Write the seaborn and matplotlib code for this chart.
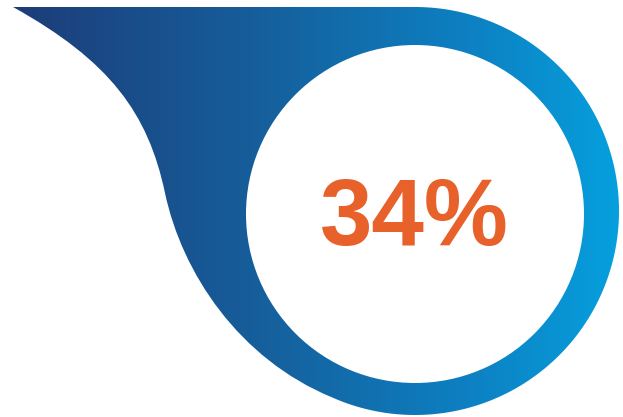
import numpy as np
import seaborn as sns
import matplotlib
matplotlib.use("Agg")
import matplotlib.pyplot as plt
from matplotlib.path import Path
from matplotlib.patches import PathPatch, Circle
from matplotlib.colors import LinearSegmentedColormap

sns.set_theme(style="white")
plt.rcParams['font.family'] = ['Liberation Sans', 'DejaVu Sans']

# data
values = [34]
labels = ["34%"]

W, H = 623, 417
fig = plt.figure(figsize=(W / 100, H / 100), dpi=100)
ax = fig.add_axes([0, 0, 1, 1])
ax.set_xlim(0, W)
ax.set_ylim(H, 0)
ax.axis("off")
fig.patch.set_facecolor("white")

cx, cy, R = 415, 211, 204
r_in = 169
cy_in = 214

# teardrop outline
verts = [(13, 7), (cx, 7)]
codes = [Path.MOVETO, Path.LINETO]
th = np.radians(np.linspace(-90, 114, 200))
for t in th:
    verts.append((cx + R * np.cos(t), cy + R * np.sin(t)))
    codes.append(Path.LINETO)
verts += [(239, 359), (182, 273), (165, 193)]
codes += [Path.CURVE4] * 3
verts += [(148, 113), (110, 61), (13, 7)]
codes += [Path.CURVE4] * 3
verts.append((13, 7))
codes.append(Path.CLOSEPOLY)
path = Path(verts, codes)
patch = PathPatch(path, facecolor="none", edgecolor="none")
ax.add_patch(patch)

cmap = LinearSegmentedColormap.from_list(
    "g", [(0.0, "#1d3b77"), (0.45, "#15629f"), (0.75, "#0d80c2"), (1.0, "#06a0de")])
grad = np.linspace(0, 1, 600).reshape(1, -1)
im = ax.imshow(grad, cmap=cmap, aspect="auto", extent=[0, W, H, 0], zorder=1)
im.set_clip_path(patch)

ax.add_patch(Circle((cx, cy_in), r_in, facecolor="white", edgecolor="none", zorder=2))

ax.text(414, 245, labels[0], ha="center", va="baseline", fontsize=68,
        fontweight="bold", color="#e8602a", zorder=3)

fig.savefig("out.png", dpi=100, facecolor="white")
